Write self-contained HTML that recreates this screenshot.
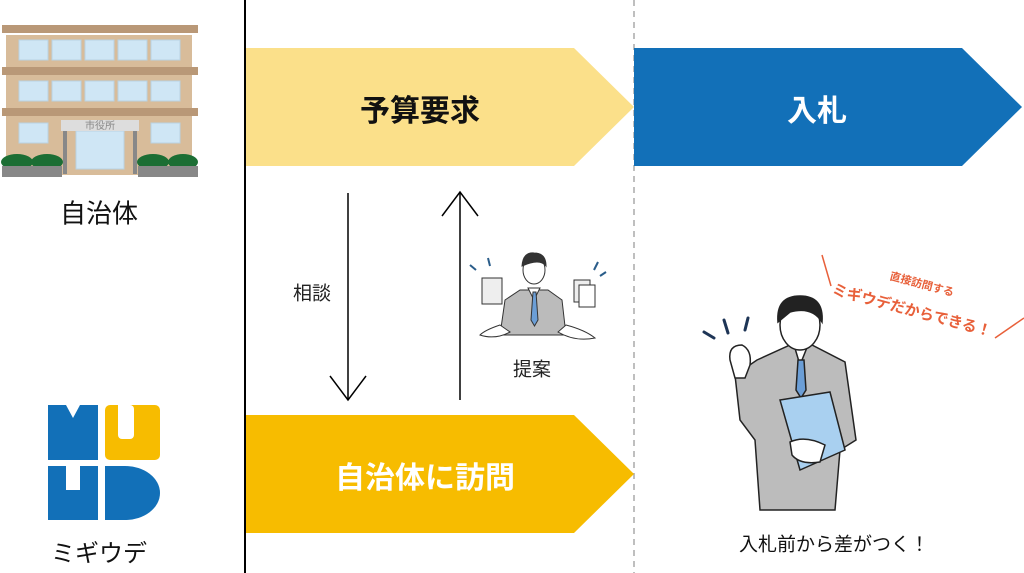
<!DOCTYPE html>
<html><head><meta charset="utf-8"><style>
*{margin:0;padding:0}
body{width:1024px;height:573px;background:#fff;position:relative;overflow:hidden;font-family:"Liberation Sans","Noto Sans CJK JP",sans-serif}
.t{position:absolute;white-space:nowrap;transform:translate(-50%,-50%)}
</style></head><body>
<svg width="1024" height="573" style="position:absolute;left:0;top:0">
<line x1="245" y1="0" x2="245" y2="573" stroke="#000" stroke-width="2"/>
<line x1="634" y1="0" x2="634" y2="573" stroke="#aaa" stroke-width="1.5" stroke-dasharray="6,5"/>
<polygon points="246,48 574,48 634,107 574,166 246,166" fill="#fbe08a"/>
<polygon points="634,48 962,48 1022,107 962,166 634,166" fill="#1270b8"/>
<polygon points="246,415 574,415 634,474 574,533 246,533" fill="#f7bc00"/>
<line x1="348" y1="193" x2="348" y2="400" stroke="#000" stroke-width="1.5"/>
<polyline points="330,376 348,400 366,376" fill="none" stroke="#000" stroke-width="1.5"/>
<line x1="460" y1="192" x2="460" y2="400" stroke="#000" stroke-width="1.5"/>
<polyline points="442,216 460,192 478,216" fill="none" stroke="#000" stroke-width="1.5"/>
<!-- building -->
<rect x="6" y="35" width="186" height="140" fill="#d8bc9a"/>
<rect x="2" y="25" width="196" height="8" fill="#b99877"/>
<rect x="2" y="67" width="196" height="8" fill="#b99877"/>
<rect x="2" y="108" width="196" height="8" fill="#b99877"/>
<g fill="#cfe6f5" stroke="#b9d2e3">
<rect x="19" y="40" width="29" height="20"/><rect x="52" y="40" width="29" height="20"/><rect x="85" y="40" width="29" height="20"/><rect x="118" y="40" width="29" height="20"/><rect x="151" y="40" width="29" height="20"/>
<rect x="19" y="81" width="29" height="20"/><rect x="52" y="81" width="29" height="20"/><rect x="85" y="81" width="29" height="20"/><rect x="118" y="81" width="29" height="20"/><rect x="151" y="81" width="29" height="20"/>
<rect x="19" y="123" width="29" height="20"/><rect x="151" y="123" width="29" height="20"/>
<rect x="76" y="131" width="48" height="38"/>
</g>
<rect x="61" y="120" width="78" height="11" fill="#ddd"/>
<text x="100" y="129" font-size="10" fill="#888" text-anchor="middle">市役所</text>
<rect x="63" y="131" width="4" height="43" fill="#888"/><rect x="133" y="131" width="4" height="43" fill="#888"/>
<g fill="#1c6e34"><ellipse cx="17" cy="162" rx="16" ry="8"/><ellipse cx="47" cy="162" rx="16" ry="8"/><ellipse cx="153" cy="162" rx="16" ry="8"/><ellipse cx="183" cy="162" rx="15" ry="8"/></g>
<g fill="#888"><rect x="2" y="166" width="60" height="11"/><rect x="138" y="166" width="60" height="11"/></g>
<!-- logo -->
<path d="M48,405 H66 L73,418 L80,405 H98 V460 H48 Z" fill="#1270b8"/>
<rect x="105" y="405" width="55" height="55" rx="5" fill="#f7bc00"/>
<rect x="118" y="405" width="16" height="34" rx="4" fill="#fff"/>
<rect x="118" y="405" width="8" height="18" fill="#fff"/>
<path d="M48,466 H66 V490 H80 V466 H98 V520 H48 Z" fill="#1270b8"/>
<path d="M105,466 H125 A35,27 0 0 1 125,520 H105 Z" fill="#1270b8"/>
<!-- small man -->
<g stroke="#333" stroke-width="1">
<path d="M505,300 L520,290 L548,290 L562,300 L566,335 L500,335 Z" fill="#bbb"/>
<path d="M528,288 L534,300 L540,288 Z" fill="#fff"/>
<path d="M533,292 L536,292 L538,320 L534.5,326 L531,320 Z" fill="#6b9ed6"/>
<ellipse cx="534" cy="270" rx="11" ry="14" fill="#fff"/>
<path d="M522,266 Q523,252 534,253 Q546,253 546,266 Q540,258 522,266 Z" fill="#333"/>
<path d="M500,325 Q485,330 480,335 Q495,340 510,332 Z" fill="#fff"/>
<path d="M566,325 Q585,330 595,338 Q575,342 558,332 Z" fill="#fff"/>
<rect x="482" y="278" width="20" height="26" fill="#eee"/>
<rect x="574" y="280" width="16" height="22" fill="#eee"/><rect x="579" y="285" width="16" height="22" fill="#fff"/>
</g>
<g stroke="#2a5d8a" stroke-width="2"><line x1="470" y1="265" x2="476" y2="270"/><line x1="488" y1="258" x2="490" y2="266"/><line x1="598" y1="262" x2="594" y2="270"/><line x1="606" y1="272" x2="600" y2="276"/></g>
<!-- big man -->
<g stroke="#222" stroke-width="1.5">
<path d="M757,360 L790,345 L812,345 L845,362 L856,440 L840,450 L835,510 L760,510 L755,440 L740,420 L735,375 Z" fill="#bcbcbc"/>
<path d="M794,345 L800,365 L808,345 Z" fill="#fff"/>
<path d="M798,360 L804,360 L806,390 L801,398 L796,390 Z" fill="#6b9ed6"/>
<ellipse cx="800" cy="325" rx="20" ry="25" fill="#fff"/>
<path d="M778,322 Q776,296 800,296 Q824,296 822,322 Q812,306 790,312 Z" fill="#222"/>
<path d="M780,400 L830,392 L845,450 L800,470 Z" fill="#a9d0f0"/>
<path d="M730,360 Q728,345 742,345 Q752,350 750,365 L745,378 L735,378 Z" fill="#fff"/>
<path d="M790,442 Q805,435 825,445 L820,462 Q800,465 792,455 Z" fill="#fff"/>
</g>
<g stroke="#1e3556" stroke-width="3" stroke-linecap="round"><line x1="704" y1="332" x2="714" y2="338"/><line x1="724" y1="320" x2="728" y2="333"/><line x1="748" y1="318" x2="745" y2="330"/></g>
<g stroke="#e8603a" stroke-width="1.5"><line x1="822" y1="255" x2="831" y2="286"/><line x1="995" y1="338" x2="1024" y2="318"/></g>
</svg>
<div class="t" style="left:420px;top:108px;font-size:30px;font-weight:bold;color:#111">予算要求</div>
<div class="t" style="left:817px;top:108px;font-size:30px;font-weight:bold;color:#fff">入札</div>
<div class="t" style="left:425px;top:475px;font-size:30px;font-weight:bold;color:#fff">自治体に訪問</div>
<div class="t" style="left:312px;top:292px;font-size:19px;color:#222">相談</div>
<div class="t" style="left:532px;top:368px;font-size:19px;color:#222">提案</div>
<div class="t" style="left:99px;top:212px;font-size:26px;color:#111">自治体</div>
<div class="t" style="left:99px;top:551px;font-size:24px;color:#111">ミギウデ</div>
<div class="t" style="left:834px;top:543px;font-size:19px;color:#111">入札前から差がつく！</div>
<div class="t" style="left:922px;top:284px;font-size:11px;color:#e8603a;font-weight:bold;transform:translate(-50%,-50%) rotate(15deg)">直接訪問する</div>
<div class="t" style="left:912px;top:310px;font-size:15px;color:#e8603a;font-weight:bold;transform:translate(-50%,-50%) rotate(15deg)">ミギウデだからできる！</div>
</body></html>
